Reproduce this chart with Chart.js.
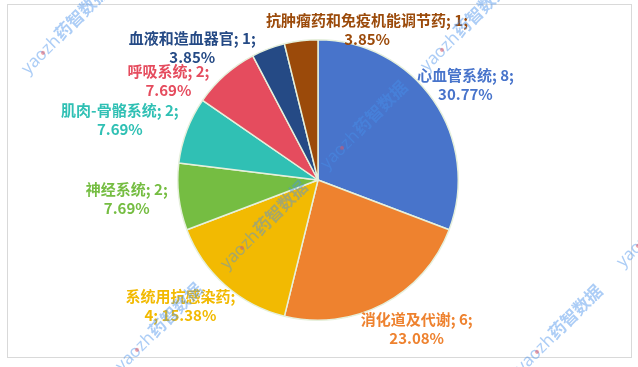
<!DOCTYPE html>
<html>
<head>
<meta charset="utf-8">
<script src="https://cdn.jsdelivr.net/npm/chart.js@4/dist/chart.umd.min.js"></script>
<style>
  html, body { margin: 0; padding: 0; background: #ffffff; }
  canvas { display: block; }
</style>
</head>
<body>
<canvas id="c" width="638" height="367"></canvas>
<script>
// 药品类别分布
const categories = ['心血管系统', '消化道及代谢', '系统用抗感染药', '神经系统', '肌肉-骨骼系统', '呼吸系统', '血液和造血器官', '抗肿瘤药和免疫机能调节药'];
const counts = [8, 6, 4, 2, 2, 2, 1, 1];

// slice colours (label text uses the same colour)
const sliceColors = ['#4874CB', '#EE822F', '#F2BA02', '#75BD42', '#30C0B4', '#E54C5E', '#254A85', '#9B4A0A'];
// label block offset from the outer middle point of each slice
const labelOffsets = [[32, -15.5], [33.5, 25], [-44.6, 21], [-52, 2], [-67, -10.5], [-56.6, 6], [-76, -1], [66, -11]];
// slices whose label breaks after the name
const breakAfterName = [false, false, true, false, false, false, false, false];

// watermark anchor points (start of text)
const watermarkSpots = [[28, 75], [327, 170], [427, 72], [227, 270], [122, 372], [522, 374], [623, 268]];

const total = counts.reduce((a, b) => a + b, 0);

const frame = {
  id: 'frame',
  beforeDraw(chart) {
    const ctx = chart.ctx;
    ctx.save();
    ctx.fillStyle = '#ffffff';
    ctx.fillRect(0, 0, chart.width, chart.height);
    ctx.strokeStyle = '#D9D9D9';
    ctx.lineWidth = 1;
    ctx.strokeRect(7.5, 4.5, 624, 353);
    ctx.restore();
  }
};

const sliceLabels = {
  id: 'sliceLabels',
  afterDatasetsDraw(chart) {
    const ctx = chart.ctx;
    const meta = chart.getDatasetMeta(0);
    ctx.save();
    ctx.font = 'bold 15px "Noto Sans CJK SC", "Noto Sans", sans-serif';
    ctx.textAlign = 'center';
    ctx.textBaseline = 'middle';
    meta.data.forEach((arc, i) => {
      const p = arc.getProps(['x', 'y', 'startAngle', 'endAngle', 'outerRadius'], true);
      const mid = (p.startAngle + p.endAngle) / 2;
      const ax = p.x + Math.cos(mid) * p.outerRadius;
      const ay = p.y + Math.sin(mid) * p.outerRadius;
      const cx = ax + labelOffsets[i][0];
      const cy = ay + labelOffsets[i][1];
      const pct = (counts[i] / total * 100).toFixed(2) + '%';
      const lines = breakAfterName[i]
        ? [categories[i] + ';', counts[i] + '; ' + pct]
        : [categories[i] + '; ' + counts[i] + ';', pct];
      ctx.fillStyle = sliceColors[i];
      ctx.fillText(lines[0], cx, cy - 9.5);
      ctx.fillText(lines[1], cx, cy + 9.5);
    });
    ctx.restore();
  }
};

const watermark = {
  id: 'watermark',
  afterDraw(chart) {
    const ctx = chart.ctx;
    ctx.save();
    ctx.beginPath();
    ctx.rect(0, 0, chart.width, chart.height);
    ctx.clip();
    watermarkSpots.forEach(([x, y]) => {
      ctx.save();
      ctx.translate(x, y);
      ctx.rotate(-Math.PI / 4);
      ctx.textBaseline = 'alphabetic';
      ctx.textAlign = 'left';
      ctx.fillStyle = 'rgba(70, 145, 235, 0.45)';
      ctx.font = '17px "Noto Sans", sans-serif';
      ctx.fillText('yaozh', 0, 0);
      const w = ctx.measureText('yaozh').width;
      ctx.font = 'bold 17px "Noto Sans CJK SC", sans-serif';
      ctx.fillText('药智数据', w + 1, 0);
      ctx.fillStyle = 'rgba(230, 80, 90, 0.5)';
      ctx.beginPath();
      ctx.arc(w * 0.56, -5, 2, 0, Math.PI * 2);
      ctx.fill();
      ctx.restore();
    });
    ctx.restore();
  }
};

new Chart(document.getElementById('c'), {
  type: 'pie',
  data: {
    labels: categories,
    datasets: [{
      data: counts,
      backgroundColor: sliceColors,
      borderColor: '#E6F0DC',
      borderWidth: 1.5
    }]
  },
  options: {
    responsive: false,
    devicePixelRatio: 1,
    animation: false,
    layout: { padding: { top: 39, bottom: 46, left: 118, right: 120 } },
    plugins: {
      legend: { display: false },
      tooltip: { enabled: false }
    }
  },
  plugins: [frame, sliceLabels, watermark]
});
</script>
</body>
</html>
